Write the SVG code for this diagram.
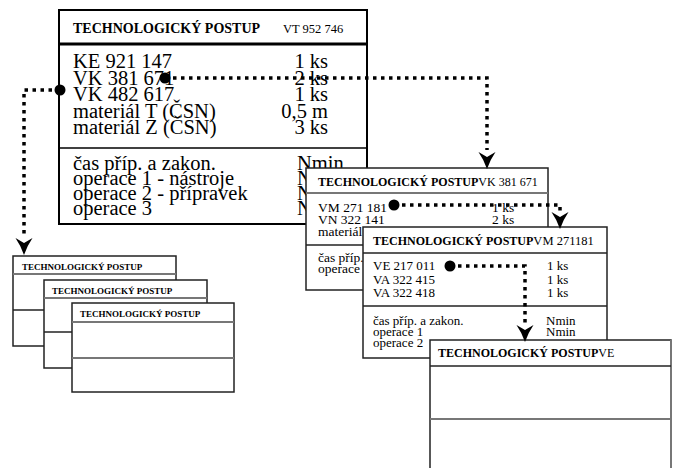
<svg xmlns="http://www.w3.org/2000/svg" width="673" height="468" viewBox="0 0 673 468" font-family="'Liberation Serif', 'DejaVu Serif', serif">
<defs>
<style>
text{font-family:'Liberation Serif','DejaVu Serif',serif;fill:#000}
.b{font-weight:bold}
.box{fill:#fff;stroke:#222;stroke-width:1.5}
.main{fill:#fff;stroke:#000;stroke-width:2}
.ln{stroke:#777;stroke-width:2}
.lnk{stroke:#222;stroke-width:1.5}
.dot{fill:none;stroke:#000;stroke-width:3.5;stroke-dasharray:3.5 4.5}
.big{font-size:20.5px}
.mid{font-size:13.5px}
</style>
</defs>

<g id="small1">
<rect class="box" x="13" y="256" width="163" height="90"/>
<line class="ln" x1="13" y1="274" x2="176" y2="274"/>
<line class="lnk" x1="13" y1="310" x2="176" y2="310"/>
<text class="b" x="22" y="270" font-size="9">TECHNOLOGICKÝ POSTUP</text>
</g>
<g id="small2">
<rect class="box" x="44" y="280" width="163" height="88"/>
<line class="ln" x1="44" y1="298" x2="207" y2="298"/>
<line class="lnk" x1="44" y1="332" x2="207" y2="332"/>
<text class="b" x="52" y="294" font-size="9">TECHNOLOGICKÝ POSTUP</text>
</g>
<g id="small3">
<rect class="box" x="72" y="303" width="162" height="89"/>
<line class="ln" x1="72" y1="322" x2="234" y2="322"/>
<line class="ln" x1="72" y1="358" x2="234" y2="358"/>
<text class="b" x="80" y="317" font-size="9">TECHNOLOGICKÝ POSTUP</text>
</g>

<g id="main">
<rect class="main" x="59" y="10" width="308" height="214"/>
<line x1="59" y1="44" x2="367" y2="44" stroke="#000" stroke-width="3"/>
<line x1="59" y1="148" x2="367" y2="148" stroke="#000" stroke-width="1.5"/>
<text class="b" x="73" y="33" font-size="14">TECHNOLOGICKÝ POSTUP</text>
<text x="283" y="33" font-size="12.5">VT 952 746</text>
<g class="big">
<text x="73" y="68">KE 921 147</text>
<text x="73" y="84.5">VK 381 671</text>
<text x="73" y="101">VK 482 617</text>
<text x="73" y="117.5">materiál T (ČSN)</text>
<text x="73" y="134">materiál Z (ČSN)</text>
<text x="328" y="68" text-anchor="end">1 ks</text>
<text x="328" y="84.5" text-anchor="end">2 ks</text>
<text x="328" y="101" text-anchor="end">1 ks</text>
<text x="328" y="117.5" text-anchor="end">0,5 m</text>
<text x="328" y="134" text-anchor="end">3 ks</text>
<text x="73" y="170">čas příp. a zakon.</text>
<text x="73" y="185">operace 1 - nástroje</text>
<text x="73" y="200">operace 2 - přípravek</text>
<text x="73" y="215">operace 3</text>
<text x="297" y="170">Nmin</text>
<text x="297" y="185">N</text>
<text x="297" y="200">N</text>
<text x="297" y="215">N</text>
</g>
</g>

<g id="vk381671">
<rect class="box" x="306" y="168" width="242" height="122"/>
<line class="ln" x1="306" y1="193" x2="548" y2="193"/>
<line class="lnk" x1="306" y1="245" x2="548" y2="245"/>
<text x="318" y="186" font-size="12"><tspan class="b">TECHNOLOGICKÝ POSTUP</tspan>VK 381 671</text>
<g class="mid">
<text x="318" y="212">VM 271 181</text>
<text x="318" y="224">VN 322 141</text>
<text x="318" y="236">materiál</text>
<text x="492" y="212">1 ks</text>
<text x="492" y="224">2 ks</text>
<text x="318" y="262">čas příp.</text>
<text x="318" y="273">operace</text>
</g>
</g>

<g id="vm271181">
<rect class="box" x="363" y="227" width="244" height="131"/>
<line class="lnk" x1="363" y1="253" x2="607" y2="253"/>
<line class="lnk" x1="363" y1="306" x2="607" y2="306"/>
<text x="373" y="245" font-size="12"><tspan class="b">TECHNOLOGICKÝ POSTUP</tspan><tspan font-size="12.5">VM 271181</tspan></text>
<g font-size="13">
<text x="373" y="270">VE 217 011</text>
<text x="373" y="284">VA 322 415</text>
<text x="373" y="297">VA 322 418</text>
<text x="547" y="270">1 ks</text>
<text x="547" y="284">1 ks</text>
<text x="547" y="297">1 ks</text>
<text x="373" y="325">čas příp. a zakon.</text>
<text x="373" y="336">operace 1</text>
<text x="373" y="347">operace 2</text>
<text x="546" y="325">Nmin</text>
<text x="546" y="336">Nmin</text>
</g>
</g>

<g id="ve">
<path d="M430 470 V340 H671 V470" fill="#fff" stroke="#222" stroke-width="1.5"/>
<line x1="671" y1="340" x2="671" y2="470" stroke="#777" stroke-width="2"/>
<line class="lnk" x1="430" y1="366" x2="671" y2="366"/>
<line class="ln" x1="430" y1="419" x2="671" y2="419"/>
<text x="438" y="357" font-size="12"><tspan class="b">TECHNOLOGICKÝ POSTUP</tspan>VE</text>
</g>

<g id="connectors">
<path class="dot" d="M165 78 H487 V150"/>
<path class="dot" d="M60 90 H24 V238"/>
<path class="dot" d="M394 205 H560 V212"/>
<path class="dot" d="M450 266 H525 V324"/>
<circle cx="165" cy="78" r="5.5"/>
<circle cx="60" cy="90" r="5.5"/>
<circle cx="394" cy="205" r="5.5"/>
<circle cx="450" cy="266" r="5.5"/>
<path d="M24 255 Q21 246 15.5 238 L24 243 L32.5 238 Q27 246 24 255 Z"/>
<path d="M487 169 Q484 160 478.5 152 L487 157 L495.5 152 Q490 160 487 169 Z"/>
<path d="M560 229 Q557 220 551.5 212 L560 217 L568.5 212 Q563 220 560 229 Z"/>
<path d="M525 342 Q522 333 516.5 325 L525 330 L533.5 325 Q528 333 525 342 Z"/>
</g>
</svg>
